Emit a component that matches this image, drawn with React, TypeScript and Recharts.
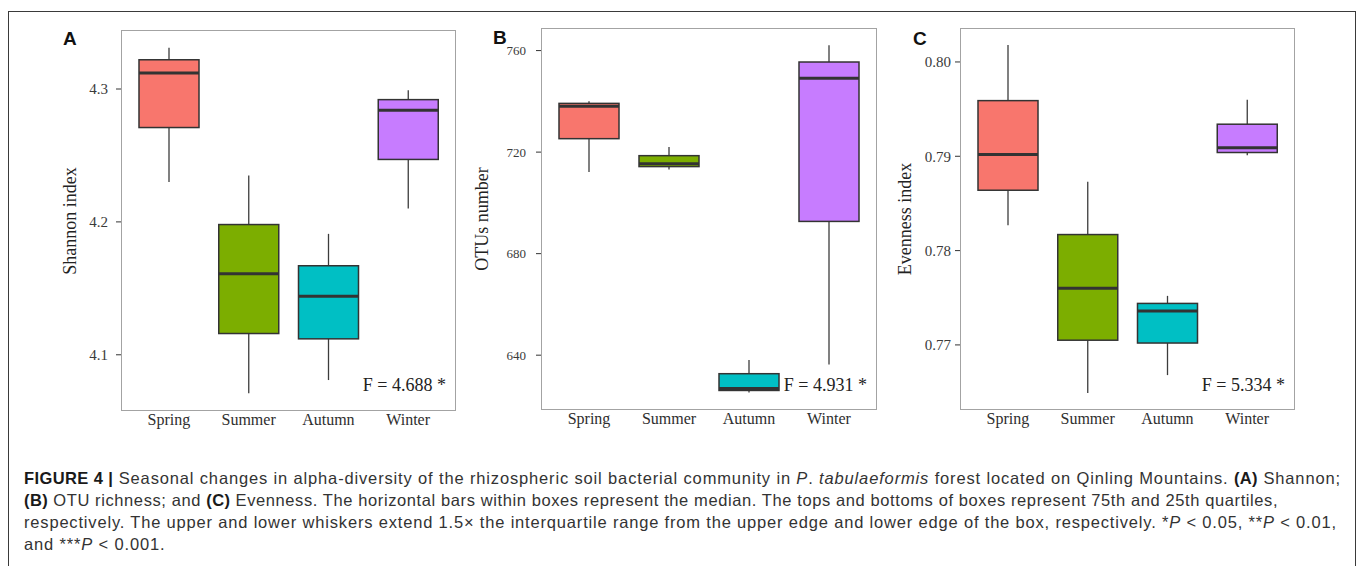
import React from "react";
import { ComposedChart, Bar, XAxis, YAxis } from "recharts";

const seasons = ["Spring", "Summer", "Autumn", "Winter"];
const seasonColors = ["#F8766D", "#7CAE00", "#00BFC4", "#C77CFF"];

// (A) Shannon index
const shannonMin = [4.23, 4.071, 4.081, 4.21];
const shannonQ1 = [4.271, 4.116, 4.112, 4.247];
const shannonMedian = [4.312, 4.161, 4.144, 4.284];
const shannonQ3 = [4.322, 4.198, 4.167, 4.292];
const shannonMax = [4.331, 4.235, 4.191, 4.299];
const shannonTicks = [4.1, 4.2, 4.3];

// (B) OTUs number
const otuMin = [712.2, 713.2, 625.3, 636.3];
const otuQ1 = [725.3, 714.3, 626.1, 692.7];
const otuMedian = [738.1, 715.4, 626.9, 749.1];
const otuQ3 = [739.2, 718.6, 632.7, 755.5];
const otuMax = [740.0, 722.0, 638.1, 762.1];
const otuTicks = [640, 680, 720, 760];

// (C) Evenness index
const evenMin = [0.7827, 0.7649, 0.7668, 0.7901];
const evenQ1 = [0.7864, 0.7705, 0.7702, 0.7904];
const evenMedian = [0.7902, 0.776, 0.7736, 0.7909];
const evenQ3 = [0.7959, 0.7817, 0.7744, 0.7934];
const evenMax = [0.8018, 0.7873, 0.7752, 0.796];
const evenTicks = [0.77, 0.78, 0.79, 0.8];

const SERIF = '"Liberation Serif", "Times New Roman", serif';
const SANS = '"Liberation Sans", Arial, Helvetica, sans-serif';
const INK = "#333333";

function buildRows(mins: number[], q1: number[], med: number[], q3: number[], maxs: number[]) {
  return seasons.map((season, i) => ({
    season,
    min: mins[i],
    q1: q1[i],
    median: med[i],
    q3: q3[i],
    max: maxs[i],
    color: seasonColors[i],
  }));
}

// box drawn inside the range bar [min, max]
function BoxShape(props: any) {
  const { x, y, width, height, payload } = props;
  if (!payload) return null;
  const top = Math.min(y, y + height);
  const h = Math.abs(height);
  const span = payload.max - payload.min || 1;
  const py = (v: number) => top + ((payload.max - v) / span) * h;
  const cx = x + width / 2;
  return (
    <g>
      <line x1={cx} x2={cx} y1={py(payload.max)} y2={py(payload.q3)} stroke="#3c3c3c" strokeWidth={1.3} />
      <line x1={cx} x2={cx} y1={py(payload.q1)} y2={py(payload.min)} stroke="#3c3c3c" strokeWidth={1.3} />
      <rect
        x={x}
        y={py(payload.q3)}
        width={width}
        height={Math.max(py(payload.q1) - py(payload.q3), 0.5)}
        fill={payload.color}
        stroke={INK}
        strokeWidth={1.5}
      />
      <line x1={x} x2={x + width} y1={py(payload.median)} y2={py(payload.median)} stroke={INK} strokeWidth={3} />
    </g>
  );
}

interface PanelProps {
  rows: any[];
  left: number;
  top: number;
  width: number;
  height: number;
  yAxisWidth: number;
  marginTop: number;
  marginRight: number;
  xAxisHeight: number;
  domain: [number, number];
  ticks: number[];
  digits: number;
  tickFont: number;
  tickMargin: number;
  title: string;
  titleX: number;
  letter: string;
  letterX: number;
  letterY: number;
  fText: string;
}

function Panel(p: PanelProps) {
  const plotLeft = p.left + p.yAxisWidth;
  const plotTop = p.top + p.marginTop;
  const plotW = p.width - p.yAxisWidth - p.marginRight;
  const plotH = p.height - p.marginTop - p.xAxisHeight;
  return (
    <>
      <div style={{ position: "absolute", left: p.left, top: p.top }}>
        <ComposedChart
          width={p.width}
          height={p.height}
          data={p.rows}
          margin={{ top: p.marginTop, right: p.marginRight, bottom: 0, left: 0 }}
        >
          <XAxis
            dataKey="season"
            type="category"
            height={p.xAxisHeight}
            padding={{ left: 8, right: 8 }}
            axisLine={false}
            tickLine={false}
            tickSize={0}
            tickMargin={3}
            tick={{ fontFamily: SERIF, fontSize: 16, fill: "#2e2e2e" }}
            interval={0}
          />
          <YAxis
            type="number"
            width={p.yAxisWidth}
            domain={p.domain}
            ticks={p.ticks}
            allowDataOverflow
            axisLine={false}
            tickLine={{ stroke: INK, strokeWidth: 1 }}
            tickSize={5}
            tickMargin={p.tickMargin}
            tickFormatter={(v: number) => v.toFixed(p.digits)}
            tick={{ fontFamily: SERIF, fontSize: p.tickFont, fill: "#3a3a3a" }}
          />
          <Bar
            dataKey={(d: any) => [d.min, d.max]}
            barSize={60}
            shape={<BoxShape />}
            isAnimationActive={false}
          />
        </ComposedChart>
      </div>
      <div
        style={{
          position: "absolute",
          left: plotLeft,
          top: plotTop,
          width: plotW,
          height: plotH,
          border: "1.5px solid #a3a3a3",
          boxSizing: "border-box",
          pointerEvents: "none",
        }}
      />
      <div
        style={{
          position: "absolute",
          left: p.titleX,
          top: plotTop + plotH / 2,
          transform: "translate(-50%, -50%) rotate(-90deg)",
          fontFamily: SERIF,
          fontSize: 18,
          color: "#222",
          whiteSpace: "nowrap",
        }}
      >
        {p.title}
      </div>
      <div
        style={{
          position: "absolute",
          left: p.letterX,
          top: p.letterY,
          fontFamily: SANS,
          fontWeight: 700,
          fontSize: 19,
          lineHeight: "19px",
          color: "#111",
        }}
      >
        {p.letter}
      </div>
      <div
        style={{
          position: "absolute",
          left: plotLeft + plotW - 230,
          width: 220,
          top: 374,
          textAlign: "right",
          fontFamily: SERIF,
          fontSize: 18,
          lineHeight: "22px",
          color: "#222",
          whiteSpace: "nowrap",
        }}
      >
        {p.fText}
      </div>
    </>
  );
}

const capStyle: React.CSSProperties = {
  position: "absolute",
  left: 24,
  fontFamily: SANS,
  fontSize: 16.5,
  letterSpacing: 0.85,
  lineHeight: "22px",
  color: "#333",
  whiteSpace: "nowrap",
};

const boldCap: React.CSSProperties = { color: "#1a1a1a", letterSpacing: 0.4 };

export default function App() {
  const shannonRows = buildRows(shannonMin, shannonQ1, shannonMedian, shannonQ3, shannonMax);
  const otuRows = buildRows(otuMin, otuQ1, otuMedian, otuQ3, otuMax);
  const evenRows = buildRows(evenMin, evenQ1, evenMedian, evenQ3, evenMax);

  return (
    <div
      style={{
        position: "absolute",
        left: 0,
        top: 0,
        width: 1358,
        height: 566,
        overflow: "hidden",
        background: "#fff",
      }}
    >
      <div
        style={{
          position: "absolute",
          left: 8,
          top: 11,
          width: 1348,
          height: 600,
          border: "1.5px solid #3a3a3a",
          boxSizing: "border-box",
        }}
      />

      <Panel
        rows={shannonRows}
        left={20}
        top={20}
        width={440}
        height={420}
        yAxisWidth={101}
        marginTop={10}
        marginRight={4}
        xAxisHeight={29}
        domain={[4.0577, 4.3444]}
        ticks={shannonTicks}
        digits={1}
        tickFont={15}
        tickMargin={8}
        title="Shannon index"
        titleX={70}
        letter="A"
        letterX={63}
        letterY={29}
        fText="F = 4.688 *"
      />
      <Panel
        rows={otuRows}
        left={450}
        top={18}
        width={430}
        height={422}
        yAxisWidth={91}
        marginTop={10}
        marginRight={3}
        xAxisHeight={30}
        domain={[618.4, 768.9]}
        ticks={otuTicks}
        digits={0}
        tickFont={13}
        tickMargin={10}
        title="OTUs number"
        titleX={482}
        letter="B"
        letterX={493}
        letterY={28}
        fText="F = 4.931 *"
      />
      <Panel
        rows={evenRows}
        left={880}
        top={18}
        width={420}
        height={422}
        yAxisWidth={80}
        marginTop={10}
        marginRight={5}
        xAxisHeight={30}
        domain={[0.7631, 0.8036]}
        ticks={evenTicks}
        digits={2}
        tickFont={15}
        tickMargin={4}
        title="Evenness index"
        titleX={905}
        letter="C"
        letterX={913}
        letterY={29}
        fText="F = 5.334 *"
      />

      <div style={{ ...capStyle, top: 467 }}>
        <b style={boldCap}>FIGURE 4 |</b> Seasonal changes in alpha-diversity of the rhizospheric soil bacterial
        community in <i>P</i>. <i>tabulaeformis</i> forest located on Qinling Mountains. <b style={boldCap}>(A)</b>{" "}
        Shannon;
      </div>
      <div style={{ ...capStyle, top: 489, letterSpacing: 0.6 }}>
        <b style={boldCap}>(B)</b> OTU richness; and <b style={boldCap}>(C)</b> Evenness. The horizontal bars within
        boxes represent the median. The tops and bottoms of boxes represent 75th and 25th quartiles,
      </div>
      <div style={{ ...capStyle, top: 511, letterSpacing: 0.82 }}>
        respectively. The upper and lower whiskers extend 1.5× the interquartile range from the upper edge and lower
        edge of the box, respectively. *<i>P</i> &lt; 0.05, **<i>P</i> &lt; 0.01,
      </div>
      <div style={{ ...capStyle, top: 533 }}>
        and ***<i>P</i> &lt; 0.001.
      </div>
    </div>
  );
}
